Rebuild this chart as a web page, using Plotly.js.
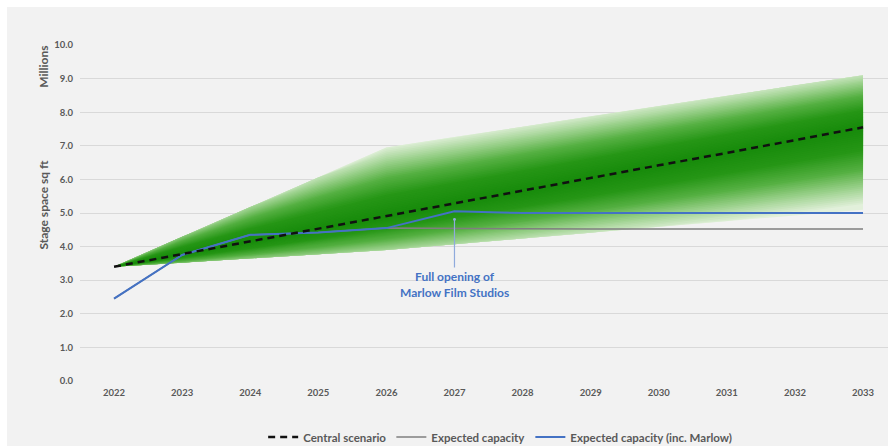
<!DOCTYPE html>
<html>
<head>
<meta charset="utf-8">
<script src="https://cdn.plot.ly/plotly-3.0.1.min.js"></script>
<style>
  html, body { margin: 0; padding: 0; background: #ffffff; }
  #chart { position: absolute; left: 7px; top: 7px; width: 881px; height: 439px; }
</style>
</head>
<body>
<div id="chart"></div>
<script>
// Years on the horizontal axis
const years = [2022, 2023, 2024, 2025, 2026, 2027, 2028, 2029, 2030, 2031, 2032, 2033];

// Stage space, millions of sq ft
const centralScenario = [3.40, 3.78, 4.15, 4.53, 4.91, 5.29, 5.66, 6.04, 6.42, 6.79, 7.17, 7.55];
const upperBound      = [3.40, 4.29, 5.18, 6.06, 6.95, 7.26, 7.57, 7.88, 8.18, 8.49, 8.80, 9.10];
const lowerBound      = [3.40, 3.52, 3.65, 3.77, 3.90, 4.07, 4.24, 4.41, 4.59, 4.76, 4.93, 5.10];
const expectedCapacity       = [2.45, 3.75, 4.35, 4.42, 4.55, 4.55, 4.53, 4.52, 4.52, 4.52, 4.52, 4.52];
const expectedCapacityMarlow = [2.45, 3.75, 4.35, 4.42, 4.55, 5.05, 5.00, 5.00, 5.00, 5.00, 5.00, 5.00];

const yTicks = [0, 1, 2, 3, 4, 5, 6, 7, 8, 9, 10];
const seriesNames = ['Central scenario', 'Expected capacity', 'Expected capacity (inc. Marlow)'];
const noteText = 'Full opening of<br>Marlow Film Studios';
const noteYear = 2027;

const FONT = 'Lato, "Open Sans", Arial, sans-serif';
const GREY_TEXT = '#595959';

// ---- fan shading: colour depends on how far a point sits from the central line ----
const shadeStops = [
  [0.00, [22, 138, 10]],
  [0.30, [38, 150, 22]],
  [0.55, [85, 176, 66]],
  [0.78, [158, 210, 143]],
  [1.00, [226, 240, 219]]
];
function shade(t) {
  for (let i = 1; i < shadeStops.length; i++) {
    const [t1, c1] = shadeStops[i];
    const [t0, c0] = shadeStops[i - 1];
    if (t <= t1) {
      const f = (t - t0) / (t1 - t0);
      const c = c0.map((v, k) => Math.round(v + (c1[k] - v) * f));
      return `rgb(${c[0]},${c[1]},${c[2]})`;
    }
  }
  const c = shadeStops[shadeStops.length - 1][1];
  return `rgb(${c[0]},${c[1]},${c[2]})`;
}
// offset from centre at shading level t, for a half-width hw
const MIX = 0.6, REACH = 2.2;
function offsetAt(t, hw) {
  if (hw <= 0) return 0;
  if (t >= 1) return hw;
  return Math.min(hw, t / (MIX / hw + (1 - MIX) / REACH));
}

const traces = [];
const LEVELS = 40;
for (let i = LEVELS; i >= 1; i--) {
  const t = i / LEVELS;
  const upY = years.map((_, j) => centralScenario[j] + offsetAt(t, upperBound[j] - centralScenario[j]));
  const loY = years.map((_, j) => centralScenario[j] - offsetAt(t, centralScenario[j] - lowerBound[j]));
  traces.push({
    x: years.concat(years.slice().reverse()),
    y: upY.concat(loY.slice().reverse()),
    type: 'scatter', mode: 'lines', fill: 'toself',
    fillcolor: shade(t), line: { width: 0 },
    showlegend: false, hoverinfo: 'skip'
  });
}

// ---- capacity and scenario lines ----
traces.push({
  x: years, y: expectedCapacity, name: seriesNames[1], legendrank: 2,
  type: 'scatter', mode: 'lines',
  line: { color: '#7f7f7f', width: 1.5 }
});
traces.push({
  x: years, y: expectedCapacityMarlow, name: seriesNames[2], legendrank: 3,
  type: 'scatter', mode: 'lines',
  line: { color: '#4472c4', width: 2 }
});
traces.push({
  x: years, y: centralScenario, name: seriesNames[0], legendrank: 1,
  type: 'scatter', mode: 'lines',
  line: { color: '#111111', width: 2.5, dash: '7px,5px' }
});

const noteIdx = years.indexOf(noteYear);

const layout = {
  width: 881, height: 439,
  margin: { l: 73, r: 0, t: 38, b: 65, autoexpand: false },
  paper_bgcolor: '#f2f2f2',
  plot_bgcolor: '#f2f2f2',
  font: { family: FONT, color: GREY_TEXT },
  showlegend: true,
  legend: {
    orientation: 'h', x: 0.52, xanchor: 'center', y: -0.167, yanchor: 'middle',
    font: { family: FONT, size: 11.5, color: GREY_TEXT, weight: 'bold' },
    itemwidth: 30, bgcolor: 'rgba(0,0,0,0)', traceorder: 'normal'
  },
  xaxis: {
    range: [2021.5, 2033.367],
    tickvals: years, ticktext: years.map(String),
    showgrid: false, zeroline: false, showline: false, ticks: '',
    tickfont: { family: FONT, size: 9.5, color: GREY_TEXT, weight: 'bold' },
    ticklabelstandoff: 4
  },
  yaxis: {
    range: [-0.002, 10.002],
    tickvals: yTicks, ticktext: yTicks.map(v => v.toFixed(1)),
    showgrid: true, gridcolor: '#d9d9d9', gridwidth: 1,
    zeroline: false, showline: false, ticks: '',
    tickfont: { family: FONT, size: 9.5, color: GREY_TEXT, weight: 'bold' },
    ticklabelstandoff: 6
  },
  annotations: [
    {
      xref: 'paper', yref: 'paper', x: -0.0446, y: 0.935,
      xanchor: 'center', yanchor: 'middle',
      text: 'Millions', textangle: -90, showarrow: false,
      font: { family: FONT, size: 12, color: GREY_TEXT, weight: 'bold' }
    },
    {
      xref: 'paper', yref: 'paper', x: -0.0446, y: 0.525,
      xanchor: 'center', yanchor: 'middle',
      text: 'Stage space sq ft', textangle: -90, showarrow: false,
      font: { family: FONT, size: 12, color: GREY_TEXT, weight: 'bold' }
    },
    {
      x: noteYear, y: expectedCapacityMarlow[noteIdx] - 0.24,
      text: noteText, showarrow: true,
      ax: 0, ay: 65, axref: 'pixel', ayref: 'pixel',
      arrowhead: 6, arrowsize: 0.6, arrowwidth: 1.2, arrowcolor: '#8faadc',
      standoff: 0,
      font: { family: FONT, size: 12, color: '#4472c4', weight: 'bold' },
      align: 'center'
    }
  ]
};

Plotly.newPlot('chart', traces, layout, { displayModeBar: false, staticPlot: true });
</script>
</body>
</html>
